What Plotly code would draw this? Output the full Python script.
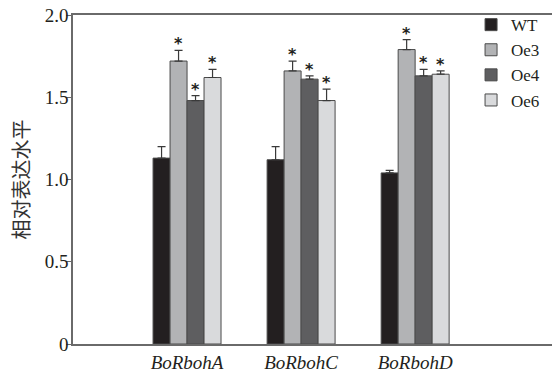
import plotly.graph_objects as go

genes = ["BoRbohA", "BoRbohC", "BoRbohD"]
lines = ["WT", "Oe3", "Oe4", "Oe6"]
values = {
    "WT":  [1.13, 1.12, 1.04],
    "Oe3": [1.72, 1.66, 1.79],
    "Oe4": [1.48, 1.61, 1.63],
    "Oe6": [1.62, 1.48, 1.64],
}
errors = {
    "WT":  [0.07, 0.08, 0.015],
    "Oe3": [0.065, 0.06, 0.06],
    "Oe4": [0.03, 0.02, 0.04],
    "Oe6": [0.05, 0.07, 0.02],
}
significant = {
    "WT":  [False, False, False],
    "Oe3": [True, True, True],
    "Oe4": [True, True, True],
    "Oe6": [True, True, True],
}
colors = {"WT": "#231f20", "Oe3": "#b2b3b5", "Oe4": "#5e5e60", "Oe6": "#d9dadc"}
y_ticks = [0, 0.5, 1.0, 1.5, 2.0]
y_ticklabels = ["0", "0.5", "1.0", "1.5", "2.0"]

xpos = list(range(len(genes)))
bargap = 0.404
ngroups = len(lines)
bw = (1 - bargap) / ngroups

fig = go.Figure()
for j, ln in enumerate(lines):
    fig.add_trace(go.Bar(
        name=ln, x=xpos, y=values[ln],
        marker=dict(color=colors[ln], line=dict(color="#4a4a4a", width=1)),
        error_y=dict(type="data", symmetric=False, array=errors[ln],
                     arrayminus=[0] * len(genes), color="#3a3a3a",
                     thickness=1.2, width=4),
    ))
    for i in xpos:
        if significant[ln][i]:
            fig.add_annotation(
                x=i + (j - (ngroups - 1) / 2) * bw,
                y=values[ln][i] + errors[ln][i],
                text="<b>*</b>", showarrow=False, yanchor="bottom", yshift=-5,
                font=dict(family="DejaVu Sans", size=16, color="#231f20"),
            )

fig.update_layout(
    width=552, height=373,
    margin=dict(l=73, r=0, t=15, b=27),
    paper_bgcolor="white", plot_bgcolor="white",
    barmode="group", bargap=bargap, bargroupgap=0,
    font=dict(family="Liberation Serif", size=17, color="#231f20"),
    legend=dict(x=0.831, y=1.024, xanchor="left", yanchor="top",
                font=dict(family="Liberation Serif", size=17),
                tracegroupgap=0, bgcolor="rgba(0,0,0,0)"),
    showlegend=True,
)
fig.update_xaxes(
    range=[-1, 3.2], tickvals=xpos,
    ticktext=[f"<i>{g}</i>" for g in genes],
    showline=True, linecolor="#6a6a6a", linewidth=1.5, mirror=True,
    ticks="", showgrid=False, zeroline=False,
    tickfont=dict(family="Liberation Serif", size=19),
)
fig.update_yaxes(
    range=[0, 2], tickvals=y_ticks, ticktext=y_ticklabels,
    showline=True, linecolor="#6a6a6a", linewidth=1.5,
    ticks="outside", ticklen=5, tickcolor="#6a6a6a",
    ticklabelstandoff=-6,
    showgrid=False, zeroline=False,
    tickfont=dict(family="Liberation Serif", size=19),
    title=dict(text="相对表达水平", standoff=10,
               font=dict(family="Noto Sans CJK SC", size=20, color="#333")),
)
fig.write_html("out.html", config={"displayModeBar": False},
               post_script="document.body.style.margin='0';")
